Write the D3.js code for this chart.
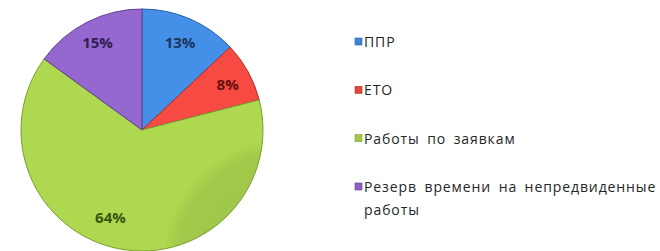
<!DOCTYPE html>
<html>
<head>
<meta charset="utf-8">
<script src="https://cdn.jsdelivr.net/npm/d3@7"></script>
<style>
  body { margin: 0; background: #fff; }
  svg { display: block; font-family: "Open Sans", "DejaVu Sans", sans-serif; }
</style>
</head>
<body>
<div id="pieChart"></div>
<script>
const categories = ['ППР', 'ЕТО', 'Работы по заявкам', 'Резерв времени на непредвиденные работы'];
const values = [13, 8, 64, 15];
const legendLines = [['ППР'], ['ЕТО'], ['Работы по заявкам'], ['Резерв времени на непредвиденные', 'работы']];
const fills = ['#3f86d9', '#e5453e', '#a2c94a', '#8b61c1'];
const edges = ['#2a5f9e', '#a8302b', '#78a030', '#5f3f8e'];
const labelColors = ['#1d3560', '#661010', '#37550f', '#321d55'];

const width = 660;
const height = 251;
const cx = 142;
const cy = 130;
const radius = 121;

const svg = d3.select('#pieChart')
  .append('svg')
  .attr('width', width)
  .attr('height', height)
  .attr('viewBox', `0 0 ${width} ${height}`);

const defs = svg.append('defs');
fills.forEach((c, i) => {
  const g = defs.append('radialGradient')
    .attr('id', `grad${i}`)
    .attr('gradientUnits', 'userSpaceOnUse')
    .attr('cx', cx).attr('cy', cy).attr('r', radius);
  g.append('stop').attr('offset', '0%').attr('stop-color', d3.color(c).darker(0.1));
  g.append('stop').attr('offset', '88%').attr('stop-color', c);
  g.append('stop').attr('offset', '100%').attr('stop-color', d3.color(c).brighter(0.2));
});

const data = categories.map((label, i) => ({ label, value: values[i], i }));
const pie = d3.pie().value((d) => d.value).sort(null);
const arcs = pie(data);
const arc = d3.arc().innerRadius(0).outerRadius(radius);

const g = svg.append('g').attr('transform', `translate(${cx},${cy})`);

g.selectAll('path')
  .data(arcs)
  .enter()
  .append('path')
  .attr('d', arc)
  .attr('fill', (d) => `url(#grad${d.data.i})`)
  .attr('stroke', (d) => edges[d.data.i])
  .attr('stroke-width', 1);

// label radius (fraction of r) and angle shift in degrees, per slice
const labelR = [0.79, 0.8, 0.77, 0.81];
const labelShift = [0, 1, 9, 0];
g.selectAll('text')
  .data(arcs)
  .enter()
  .append('text')
  .attr('transform', (d) => {
    const r = radius * labelR[d.data.i];
    const a = (d.startAngle + d.endAngle) / 2 + labelShift[d.data.i] * Math.PI / 180;
    return `translate(${Math.sin(a) * r},${-Math.cos(a) * r})`;
  })
  .attr('text-anchor', 'middle')
  .attr('dy', '0.36em')
  .attr('font-size', '15px')
  .attr('font-weight', 'bold')
  .attr('fill', (d) => labelColors[d.data.i])
  .text((d) => `${d.data.value}%`);

const legendY = d3.scalePoint().domain(d3.range(categories.length)).range([42, 187]);
const legend = svg.append('g').attr('transform', 'translate(355,0)');
const item = legend.selectAll('g')
  .data(legendLines)
  .enter()
  .append('g')
  .attr('transform', (d, i) => `translate(0,${legendY(i)})`);

item.append('rect')
  .attr('x', 0).attr('y', -4)
  .attr('width', 7).attr('height', 7)
  .attr('fill', (d, i) => fills[i])
  .attr('stroke', (d, i) => edges[i])
  .attr('stroke-width', 0.6);

item.append('text')
  .attr('x', 9)
  .attr('fill', '#262626')
  .attr('font-size', '14px')
  .attr('letter-spacing', '0.9px')
  .attr('word-spacing', '3px')
  .selectAll('tspan')
  .data((d) => d)
  .enter()
  .append('tspan')
  .attr('x', 9)
  .attr('dy', (d, j) => (j === 0 ? '0.35em' : '1.65em'))
  .text((d) => d);
</script>
</body>
</html>
